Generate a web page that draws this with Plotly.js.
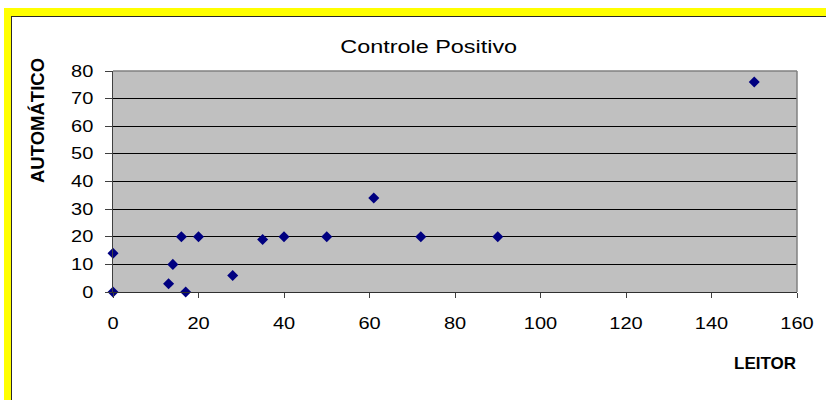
<!DOCTYPE html>
<html>
<head>
<meta charset="utf-8">
<script src="https://cdn.plot.ly/plotly-3.0.1.min.js"></script>
<style>
  html, body { margin: 0; padding: 0; background: #ffffff; }
  #wrap { position: relative; width: 826px; height: 400px; overflow: hidden; background: #ffffff; }
  /* yellow chart frame with a thin dark inner edge */
  #frame { position: absolute; left: 4px; top: 8px; width: 1000px; height: 600px;
           border-top: 8px solid #ffff00; border-left: 7px solid #ffff00; box-sizing: content-box; }
  #frame-inner { position: absolute; left: 0; top: 0; right: 0; bottom: 0;
                 border-top: 1.5px solid #2a2a2a; border-left: 1.5px solid #2a2a2a; }
  #chart { position: absolute; left: 0; top: 0; width: 826px; height: 400px; }
</style>
</head>
<body>
<div id="wrap">
  <div id="frame"><div id="frame-inner"></div></div>
  <div id="chart"></div>
</div>
<script>
// Leitor vs. automático readings for the positive control
const leitor     = [0, 0, 13, 14, 16, 17, 20, 28, 35, 40, 50, 61, 72, 90, 150];
const automatico = [0, 14, 3, 10, 20, 0, 20, 6, 19, 20, 20, 34, 20, 20, 76];
const xTicks = [0, 20, 40, 60, 80, 100, 120, 140, 160];
const yTicks = [0, 10, 20, 30, 40, 50, 60, 70, 80];

const font = 'Liberation Sans, Arial, sans-serif';

const trace = {
  type: 'scatter',
  mode: 'markers',
  x: leitor,
  y: automatico,
  marker: { symbol: 'diamond', size: 8.5, color: '#000080', line: { width: 0 } },
  cliponaxis: false,
  hoverinfo: 'x+y'
};

const layout = {
  width: 826,
  height: 400,
  margin: { l: 113, r: 29, t: 71, b: 108 },
  paper_bgcolor: 'rgba(0,0,0,0)',
  plot_bgcolor: '#c0c0c0',
  showlegend: false,
  font: { family: font, color: '#000000', size: 16 },
  title: {
    text: 'Controle Positivo',
    font: { family: font, size: 18, color: '#000000' },
    x: 0.519, xref: 'container', xanchor: 'center',
    y: 0.8825, yref: 'container', yanchor: 'middle'
  },
  xaxis: {
    range: [0, 160],
    tickvals: xTicks,
    ticktext: xTicks.map(String),
    ticks: 'outside',
    ticklen: 5,
    tickcolor: '#404040',
    tickwidth: 1,
    showgrid: false,
    zeroline: false,
    showline: true,
    linecolor: '#303030',
    linewidth: 1,
    ticklabelstandoff: 12,
    tickfont: { family: font, size: 16, color: '#000000' },
    fixedrange: true
  },
  yaxis: {
    range: [0, 80],
    tickvals: yTicks,
    ticktext: yTicks.map(String),
    ticks: 'outside',
    ticklen: 7,
    tickcolor: '#404040',
    tickwidth: 1,
    showgrid: true,
    gridcolor: '#000000',
    gridwidth: 1,
    zeroline: false,
    showline: true,
    linecolor: '#404040',
    linewidth: 1.5,
    ticklabelstandoff: 8,
    tickfont: { family: font, size: 16, color: '#000000' },
    fixedrange: true
  },
  shapes: [
    // gray plot-area border on the top and right
    { type: 'line', xref: 'paper', yref: 'paper', x0: 0, x1: 1, y0: 1, y1: 1,
      line: { color: '#808080', width: 1.5 } },
    { type: 'line', xref: 'paper', yref: 'paper', x0: 1, x1: 1, y0: 0, y1: 1,
      line: { color: '#808080', width: 1.5 } }
  ],
  annotations: [
    { text: '<b>AUTOMÁTICO</b>', xref: 'paper', yref: 'paper',
      x: (37 - 113) / 684, y: (292 - 121) / 221, xanchor: 'center', yanchor: 'middle',
      textangle: -90, showarrow: false, font: { family: font, size: 18.5, color: '#000000' } },
    { text: '<b>LEITOR</b>', xref: 'paper', yref: 'paper',
      x: (765 - 113) / 684, y: (292 - 363) / 221, xanchor: 'center', yanchor: 'middle',
      showarrow: false, font: { family: font, size: 17, color: '#000000' } }
  ]
};

// Widen the horizontal labels a little (wide-set chart lettering)
function widen(gd) {
  const groups = [
    { sel: '.xtick text, .ytick text', k: 1.25 },
    { sel: '.gtitle', k: 1.3 }
  ];
  groups.forEach(g => {
    gd.querySelectorAll(g.sel).forEach(el => {
      const w = el.getComputedTextLength();
      if (w > 0) {
        el.setAttribute('textLength', (w * g.k).toFixed(2));
        el.setAttribute('lengthAdjust', 'spacingAndGlyphs');
      }
    });
  });
}

Plotly.newPlot('chart', [trace], layout, { displayModeBar: false, staticPlot: true })
  .then(widen);
</script>
</body>
</html>
